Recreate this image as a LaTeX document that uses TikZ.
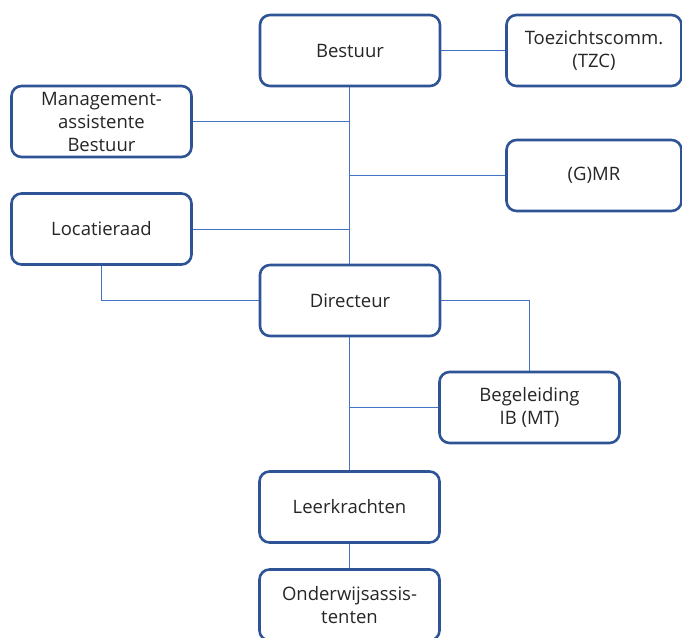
\documentclass[tikz,border=0pt]{standalone}
\usepackage{fontspec}
\setmainfont{Open Sans}
\definecolor{boxline}{HTML}{2F5496}
\definecolor{conn}{HTML}{4472C4}
\definecolor{txt}{HTML}{262626}
\begin{document}
\begin{tikzpicture}[x=1pt,y=-1pt,
  orgbox/.style={draw=boxline, line width=2.6pt, rounded corners=10pt, fill=white,
    minimum width=180pt, minimum height=71pt, inner sep=0pt, align=center,
    text=txt, font=\fontsize{18.5}{23}\selectfont},
  link/.style={draw=conn, line width=0.9pt}]
\useasboundingbox (0,0) rectangle (682,637);
\node[orgbox] (bestuur) at (350,50.5) {Bestuur};
\node[orgbox, minimum width=175pt] (tzc) at (594,50.5) {Toezichtscomm.\\(TZC)};
\node[orgbox] (mab) at (101.5,121.5) {Management-\\assistente\\Bestuur};
\node[orgbox, minimum width=175pt] (gmr) at (594,175.5) {(G)MR};
\node[orgbox] (loc) at (101.5,229) {Locatieraad};
\node[orgbox] (dir) at (350,300.5) {Directeur};
\node[orgbox] (ib) at (529.5,407.5) {Begeleiding\\IB (MT)};
\node[orgbox] (leer) at (349.5,507) {Leerkrachten};
\node[orgbox] (ond) at (349.5,605) {Onderwijsassis-\\tenten};
\coordinate (tmab) at (349,121.5);
\coordinate (tgmr) at (349,175.5);
\coordinate (tloc) at (349,229);
\coordinate (tib) at (349,407.5);
\draw[link] (bestuur.east) -- (tzc.west);
\draw[link] (bestuur.south -| tmab) -- (dir.north -| tmab);
\draw[link] (mab.east) -- (tmab);
\draw[link] (tgmr) -- (gmr.west);
\draw[link] (loc.east) -- (tloc);
\draw[link] (loc.south) |- (dir.west);
\draw[link] (dir.east) -| (ib.north);
\draw[link] (dir.south -| tib) -- (leer.north -| tib);
\draw[link] (tib) -- (ib.west);
\draw[link] (leer.south -| tib) -- (ond.north -| tib);
\end{tikzpicture}
\end{document}
